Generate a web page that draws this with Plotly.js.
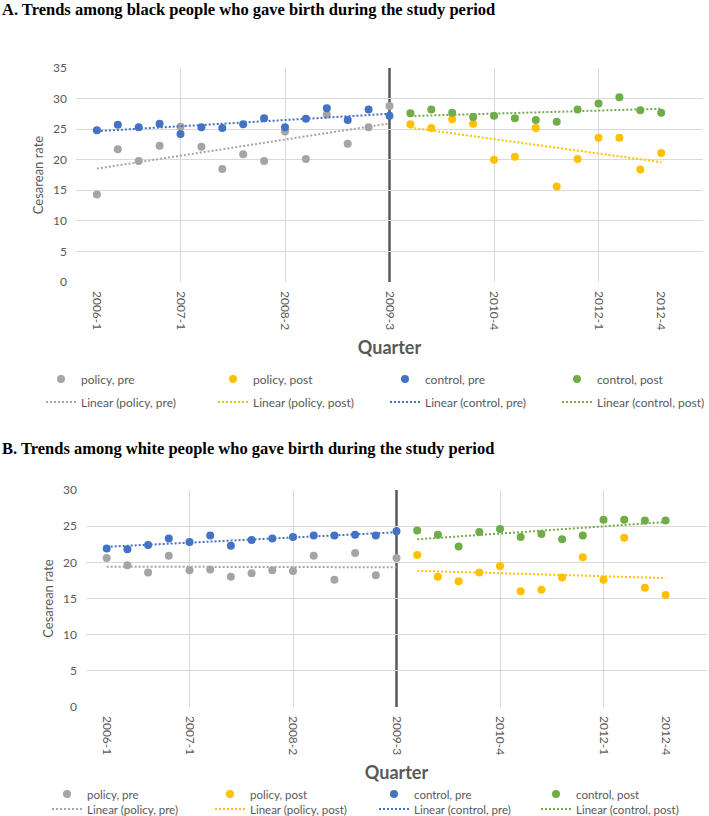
<!DOCTYPE html>
<html>
<head>
<meta charset="utf-8">
<script src="https://cdn.plot.ly/plotly-3.0.1.min.js"></script>
<style>
html,body{margin:0;padding:0;background:#fff;}
#chart{width:709px;height:816px;}
</style>
</head>
<body>
<div id="chart"></div>
<script>
// ---------- DATA ----------
const quarters = ['2006-1','2006-2','2006-3','2006-4','2007-1','2007-2','2007-3','2007-4',
  '2008-1','2008-2','2008-3','2008-4','2009-1','2009-2','2009-3','2009-4',
  '2010-1','2010-2','2010-3','2010-4','2011-1','2011-2','2011-3','2011-4',
  '2012-1','2012-2','2012-3','2012-4'];
const shownTickLabels = ['2006-1','2007-1','2008-2','2009-3','2010-4','2012-1','2012-4'];
const policyQuarter = '2009-3';
const seriesNames = ['policy, pre','policy, post','control, pre','control, post'];

// Panel A: black people
const blackPolicyPre   = [14.3,21.7,19.8,22.3,25.4,22.1,18.5,20.9,19.8,24.6,20.1,27.4,22.6,25.3,28.8];
const blackPolicyPost  = [25.8,25.2,26.6,25.9,20.0,20.5,25.2,15.6,20.1,23.6,23.6,18.4,21.1];
const blackControlPre  = [24.8,25.7,25.3,25.9,24.2,25.3,25.2,25.8,26.8,25.3,26.7,28.4,26.5,28.2,27.2];
const blackControlPost = [27.6,28.2,27.7,27.0,27.2,26.8,26.5,26.2,28.2,29.2,30.2,28.1,27.7];

// Panel B: white people
const whitePolicyPre   = [20.6,19.6,18.6,20.9,18.9,19.0,18.0,18.5,18.9,18.8,20.9,17.6,21.3,18.2,20.6];
const whitePolicyPost  = [21.0,18.0,17.4,18.6,19.5,16.0,16.2,17.9,20.7,17.6,23.4,16.5,15.5];
const whiteControlPre  = [21.9,21.8,22.4,23.3,22.8,23.7,22.3,23.1,23.3,23.5,23.7,23.7,23.8,23.7,24.3];
const whiteControlPost = [24.4,23.8,22.2,24.2,24.6,23.5,23.9,23.2,23.7,25.9,25.9,25.8,25.8];

// ---------- STYLE ----------
const colors = ['#A5A5A5','#FFC000','#4472C4','#70AD47'];
const W = 709, H = 816;
const SANS = 'Lato, "Open Sans", sans-serif';
const SERIF = '"Liberation Serif", "Times New Roman", serif';
const TXT = '#595959';
const GRID = '#D9D9D9';

// ---------- HELPERS ----------
const qPos = q => quarters.indexOf(q) + 1;           // quarter -> numeric position
const policyPos = qPos(policyQuarter);
const preX  = quarters.slice(0, policyPos).map(qPos);
const postX = quarters.slice(policyPos).map(qPos);
const px = x => x / W;
const py = y => 1 - y / H;

function linFit(xs, ys) {
  const n = xs.length;
  const mx = xs.reduce((a,b)=>a+b,0)/n, my = ys.reduce((a,b)=>a+b,0)/n;
  let sxy = 0, sxx = 0;
  for (let i=0;i<n;i++){ sxy += (xs[i]-mx)*(ys[i]-my); sxx += (xs[i]-mx)**2; }
  const b = sxy/sxx, a = my - b*mx;
  const x0 = xs[0], x1 = xs[n-1];
  return {x:[x0,x1], y:[a+b*x0, a+b*x1]};
}

const legId = k => (k === 1 ? 'legend' : 'legend' + k);

// each panel: markers on label axis, trend lines on the grid (overlay) axis
function panelTraces(series, xaLabel, xaGrid, ya, legStart) {
  const xsets = [preX, postX, preX, postX];
  const pts = series.map((ys,i)=>({
    type:'scatter', mode:'markers', x:xsets[i], y:ys, name:seriesNames[i],
    xaxis:xaLabel, yaxis:ya, legend:legId(legStart + i),
    marker:{color:colors[i], size:8}, hoverinfo:'x+y'
  }));
  const lines = series.map((ys,i)=>{
    const f = linFit(xsets[i], ys);
    return {type:'scatter', mode:'lines', x:f.x, y:f.y, name:'Linear (' + seriesNames[i] + ')',
      xaxis:xaGrid, yaxis:ya, legend:legId(legStart + 4 + i),
      line:{color:colors[i], width:2, dash:'2px,2px'}, hoverinfo:'skip'};
  });
  return pts.concat(lines);
}

const traces = [].concat(
  panelTraces([blackPolicyPre, blackPolicyPost, blackControlPre, blackControlPost], 'x', 'x3', 'y', 1),
  panelTraces([whitePolicyPre, whitePolicyPost, whiteControlPre, whiteControlPost], 'x2', 'x4', 'y2', 9)
);

// vertical gridlines every 5 quarters (the policy line replaces the one at the policy quarter)
const gridVals = [0,5,10,15,20,25,30].filter(v => v !== policyPos);
const tickPos = shownTickLabels.map(qPos);

function labelAxis(dom, anchor) {
  return {domain:dom, anchor:anchor, range:[0,30], tickmode:'array', tickvals:tickPos, ticktext:shownTickLabels,
    tickangle:90, showgrid:false, zeroline:false, showline:false, ticks:'', ticklabelstandoff:8,
    tickfont:{family:SANS, size:12, color:TXT},
    title:{text:'<b>Quarter</b>', font:{family:SANS, size:18, color:TXT}, standoff:12}};
}
function gridAxis(over, anchor) {
  return {overlaying:over, anchor:anchor, range:[0,30], tickmode:'array', tickvals:gridVals,
    showgrid:true, gridcolor:GRID, gridwidth:1, zeroline:false, showticklabels:false, ticks:'', showline:false};
}
function yAxis(dom, anchor, maxv) {
  return {domain:dom, anchor:anchor, range:[0,maxv], dtick:5, tick0:0, showgrid:true, gridcolor:GRID,
    zeroline:false, showline:false, ticks:'', ticklabelstandoff:8,
    tickfont:{family:SANS, size:12, color:TXT},
    title:{text:'Cesarean rate', font:{family:SANS, size:13, color:TXT}, standoff:6}};
}
function legendAt(xPix, yPix, fs) {
  return {orientation:'h', x:px(xPix), xanchor:'left', y:py(yPix), yanchor:'middle',
    font:{family:SANS, size:fs, color:TXT}, bgcolor:'rgba(0,0,0,0)', borderwidth:0};
}

// legend positions (pixels): entry start x, row centre y
const legColsA = [41, 213, 385, 557], legRowsA = [379, 402];
const legColsB = [47, 210, 374, 536], legRowsB = [794, 809];

const layout = {
  width:W, height:H, margin:{l:0,r:0,t:0,b:0, autoexpand:false}, paper_bgcolor:'#fff', plot_bgcolor:'#fff',
  font:{family:SANS, color:TXT}, showlegend:true,
  xaxis: labelAxis([px(76), px(703)], 'y'),
  yaxis: yAxis([py(282), py(68)], 'x', 35),
  xaxis3: gridAxis('x', 'y'),
  xaxis2: labelAxis([px(86), px(707)], 'y2'),
  yaxis2: yAxis([py(707), py(490)], 'x2', 30),
  xaxis4: gridAxis('x2', 'y2'),
  shapes:[
    {type:'line', xref:'x', yref:'y domain', x0:policyPos, x1:policyPos, y0:0, y1:1, layer:'below',
      line:{color:'#595959', width:2.5}},
    {type:'line', xref:'x2', yref:'y2 domain', x0:policyPos, x1:policyPos, y0:0, y1:1, layer:'below',
      line:{color:'#595959', width:2.5}}
  ],
  annotations:[
    {text:'<b>A. Trends among black people who gave birth during the study period</b>', xref:'paper', yref:'paper',
      x:0, xanchor:'left', y:py(10), yanchor:'middle', showarrow:false,
      font:{family:SERIF, size:16.5, color:'#000'}},
    {text:'<b>B. Trends among white people who gave birth during the study period</b>', xref:'paper', yref:'paper',
      x:0, xanchor:'left', y:py(448), yanchor:'middle', showarrow:false,
      font:{family:SERIF, size:16.5, color:'#000'}}
  ]
};
for (let r=0;r<2;r++) for (let c=0;c<4;c++) {
  layout[legId(1 + r*4 + c)] = legendAt(legColsA[c], legRowsA[r], 12);
  layout[legId(9 + r*4 + c)] = legendAt(legColsB[c], legRowsB[r], 11.5);
}

Plotly.newPlot('chart', traces, layout, {displayModeBar:false, staticPlot:true});
</script>
</body>
</html>
